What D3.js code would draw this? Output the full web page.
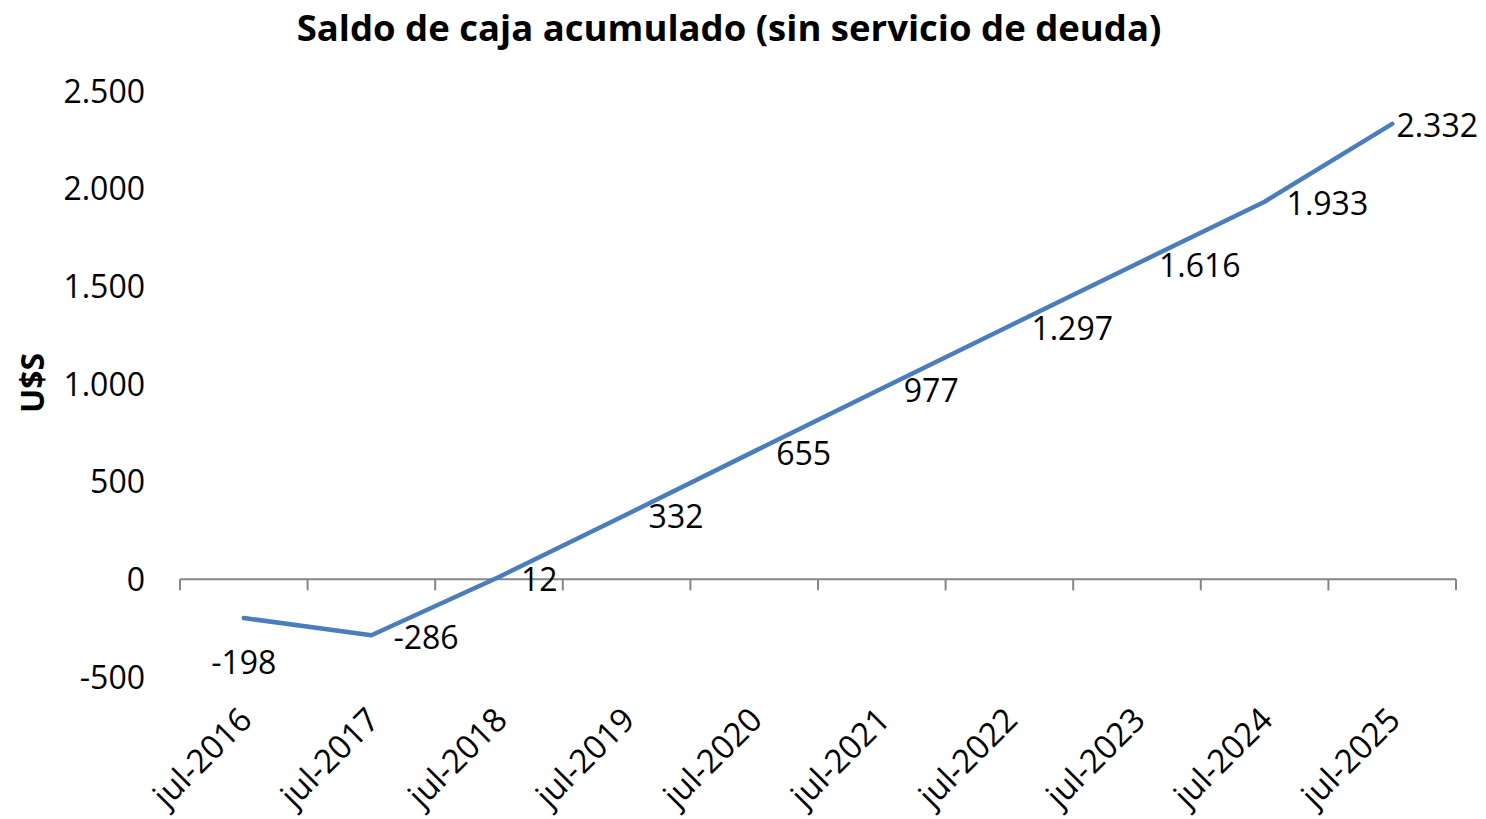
<!DOCTYPE html>
<html lang="es">
<head>
    <meta charset="UTF-8">
    <title>Saldo de caja acumulado</title>
    <script src="https://d3js.org/d3.v7.min.js"></script>
    <style>
        body {
            margin: 0;
            background: white;
            font-family: "Open Sans", sans-serif;
        }
        text {
            fill: black;
        }
    </style>
</head>
<body>
    <svg id="chart" width="1486" height="819"></svg>
    <script>
        const categories = ["jul-2016", "jul-2017", "jul-2018", "jul-2019", "jul-2020",
                            "jul-2021", "jul-2022", "jul-2023", "jul-2024", "jul-2025"];
        const saldo = [-198, -286, 12, 332, 655, 977, 1297, 1616, 1933, 2332];
        const yTicks = [-500, 0, 500, 1000, 1500, 2000, 2500];

        const width = 1486,
              height = 819;

        const locale = d3.formatLocale({decimal: ",", thousands: ".", grouping: [3], currency: ["", ""], minus: "-"});
        const fmt = locale.format(",d");

        const svg = d3.select("#chart");

        const x = d3.scaleBand()
                    .domain(categories)
                    .range([180, 1456])
                    .padding(0);

        const y = d3.scaleLinear()
                    .domain([-500, 2500])
                    .range([677, 91]);

        const cx = d => x(d) + x.bandwidth() / 2;

        // title
        svg.append("text")
           .attr("x", 729)
           .attr("y", 41)
           .attr("text-anchor", "middle")
           .style("font-size", "36.5px")
           .style("font-weight", "bold")
           .text("Saldo de caja acumulado (sin servicio de deuda)");

        // y axis title
        svg.append("text")
           .attr("transform", "translate(44,383) rotate(-90)")
           .attr("text-anchor", "middle")
           .style("font-size", "32px")
           .style("font-weight", "bold")
           .text("U$S");

        // y tick labels (no axis line)
        svg.append("g")
           .selectAll("text")
           .data(yTicks)
           .join("text")
           .attr("x", 145)
           .attr("y", d => y(d))
           .attr("dy", "0.36em")
           .attr("text-anchor", "end")
           .style("font-size", "32px")
           .text(d => fmt(d));

        // horizontal axis at zero, ticks on category edges
        const gx = svg.append("g")
           .attr("transform", `translate(0,${y(0)})`);
        gx.append("line")
          .attr("x1", x.range()[0]).attr("x2", x.range()[1])
          .attr("y1", 0).attr("y2", 0)
          .attr("stroke", "#868686")
          .attr("stroke-width", 2);
        const edges = categories.map(c => x(c)).concat([x.range()[1]]);
        gx.selectAll("line.edge")
          .data(edges)
          .join("line")
          .attr("class", "edge")
          .attr("x1", d => d).attr("x2", d => d)
          .attr("y1", 0).attr("y2", 11)
          .attr("stroke", "#868686")
          .attr("stroke-width", 2);

        // category labels, rotated
        svg.append("g")
           .selectAll("text")
           .data(categories)
           .join("text")
           .attr("transform", d => `translate(${cx(d) + 10},${722}) rotate(-45)`)
           .attr("text-anchor", "end")
           .style("font-size", "33px")
           .text(d => d);

        // line
        const line = d3.line()
                       .x((d, i) => cx(categories[i]))
                       .y(d => y(d));

        svg.append("path")
           .datum(saldo)
           .attr("d", line)
           .attr("fill", "none")
           .attr("stroke", "#4a7ebb")
           .attr("stroke-width", 4.5)
           .attr("stroke-linejoin", "round")
           .attr("stroke-linecap", "round");

        // data labels: first below the point, the rest to its right (kept inside the frame)
        svg.append("g")
           .selectAll("text")
           .data(saldo)
           .join("text")
           .attr("y", (d, i) => i === 0 ? y(d) + 44 : y(d) + 2)
           .attr("dy", "0.36em")
           .attr("text-anchor", (d, i) => i === 0 ? "middle" : "start")
           .style("font-size", "32px")
           .text(d => fmt(d))
           .each(function(d, i) {
               const px = cx(categories[i]);
               if (i === 0) {
                   d3.select(this).attr("x", px);
                   return;
               }
               const w = this.getComputedTextLength();
               d3.select(this).attr("x", Math.min(px + 22, width - 8 - w));
           });
    </script>
</body>
</html>
